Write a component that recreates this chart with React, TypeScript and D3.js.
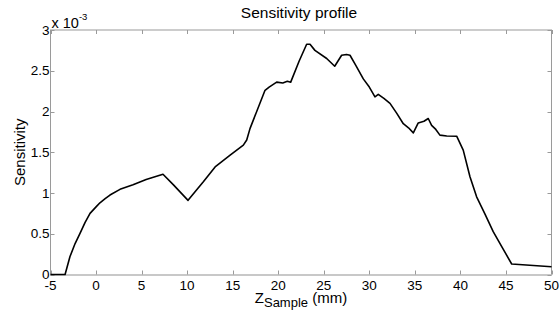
import React, { useEffect, useRef } from 'react';
import * as d3 from 'd3';

// Z position (mm) and sensitivity (x 1e-3)
const zSample = [
  -5, -3.4, -2.86, -2.3, -1.76, -1.2, -0.66, 0, 0.43, 1, 1.53, 2.63, 4.06, 5.5, 7.35, 8.5, 10.1,
  10.87, 11.78, 13.07, 14.72, 16.17, 16.54, 16.9, 18.55, 19.0, 19.83, 20.5, 21.0, 21.37, 22.3,
  23.12, 23.49, 24.03, 25.32, 26.2, 26.96, 27.5, 27.88, 28.5, 29.34, 30.0, 30.62, 30.98, 31.6,
  32.27, 33.0, 33.73, 34.3, 34.83, 35.37, 36.0, 36.47, 36.84, 37.3, 37.75, 38.5, 39.59, 40.31,
  41.05, 41.78, 42.7, 43.6, 44.6, 45.63, 50,
];
const sensitivity = [
  0, 0, 0.22, 0.38, 0.505, 0.64, 0.75, 0.83, 0.88, 0.93, 0.975, 1.045, 1.1, 1.165, 1.23, 1.1, 0.91,
  1.015, 1.137, 1.32, 1.464, 1.587, 1.65, 1.79, 2.26, 2.3, 2.36, 2.35, 2.37, 2.36, 2.62, 2.825,
  2.825, 2.75, 2.65, 2.555, 2.69, 2.7, 2.69, 2.57, 2.4, 2.3, 2.18, 2.21, 2.16, 2.1, 1.98, 1.85, 1.8,
  1.738, 1.86, 1.88, 1.914, 1.83, 1.78, 1.71, 1.7, 1.697, 1.526, 1.2, 0.953, 0.74, 0.525, 0.33,
  0.129, 0.096,
];
const xTicks = d3.range(-5, 51, 5);
const yTicks = [0, 0.5, 1, 1.5, 2, 2.5, 3];

const width = 560;
const height = 318;
const margin = { top: 30, right: 8.5, bottom: 43.5, left: 50.5 };

export default function App() {
  const svgRef = useRef<SVGSVGElement>(null);

  useEffect(() => {
    if (!svgRef.current) return;
    const svg = d3.select(svgRef.current);
    svg.selectAll('*').remove();

    const x = d3.scaleLinear().domain([-5, 50]).range([margin.left, width - margin.right]);
    const y = d3.scaleLinear().domain([0, 3]).range([height - margin.bottom, margin.top]);
    const font = 'Liberation Sans, Arial, sans-serif';

    const [x0, x1] = x.range();
    const [yb, yt] = y.range();
    const axisColor = '#9a9a9a';

    // box
    svg.append('rect')
      .attr('x', x0).attr('y', yt).attr('width', x1 - x0).attr('height', yb - yt)
      .attr('fill', 'none').attr('stroke', axisColor).attr('stroke-width', 1);
    svg.append('line')
      .attr('x1', x0).attr('x2', x1).attr('y1', yb + 0.5).attr('y2', yb + 0.5)
      .attr('stroke', '#c8c8c8').attr('stroke-width', 2);

    // ticks (inward, on all four sides)
    const tickLen = 4;
    const g = svg.append('g').attr('stroke', axisColor).attr('stroke-width', 1);
    xTicks.forEach(t => {
      const px = Math.round(x(t)) + 0.5;
      g.append('line').attr('x1', px).attr('x2', px).attr('y1', yb).attr('y2', yb - tickLen);
      g.append('line').attr('x1', px).attr('x2', px).attr('y1', yt).attr('y2', yt + tickLen);
    });
    yTicks.forEach(t => {
      const py = Math.round(y(t)) + 0.5;
      g.append('line').attr('x1', x0).attr('x2', x0 + tickLen).attr('y1', py).attr('y2', py);
      g.append('line').attr('x1', x1).attr('x2', x1 - tickLen).attr('y1', py).attr('y2', py);
    });

    // tick labels
    svg.append('g')
      .selectAll('text')
      .data(xTicks)
      .join('text')
      .attr('x', d => x(d))
      .attr('y', yb + 15)
      .attr('text-anchor', 'middle')
      .style('font', `13.5px ${font}`)
      .text(d => d);
    svg.append('g')
      .selectAll('text')
      .data(yTicks)
      .join('text')
      .attr('x', x0 - 1)
      .attr('y', d => y(d) + 4.5)
      .attr('text-anchor', 'end')
      .style('font', `13.5px ${font}`)
      .text(d => d);

    // exponent
    const ex = svg.append('text').attr('x', x0 + 1).attr('y', yt - 2).style('font', `14.5px ${font}`);
    ex.append('tspan').text('x 10');
    ex.append('tspan').attr('dy', -8).style('font-size', '9.5px').text('-3');

    // line
    const line = d3.line<number>()
      .x((_, i) => x(zSample[i]))
      .y(d => y(d));
    svg.append('path')
      .datum(sensitivity)
      .attr('d', line)
      .attr('fill', 'none')
      .attr('stroke', '#000')
      .attr('stroke-width', 1.6)
      .attr('stroke-linejoin', 'round');

    // title and labels
    svg.append('text')
      .attr('x', (x0 + x1) / 2 - 2).attr('y', 18)
      .attr('text-anchor', 'middle')
      .style('font', `15.5px ${font}`)
      .text('Sensitivity profile');

    const xl = svg.append('text')
      .attr('x', (x0 + x1) / 2).attr('y', 303)
      .attr('text-anchor', 'middle')
      .style('font', `15px ${font}`);
    xl.append('tspan').text('Z');
    xl.append('tspan').attr('dy', 4).style('font-size', '13px').text('Sample');
    xl.append('tspan').attr('dy', -4).text(' (mm)');

    svg.append('text')
      .attr('transform', `translate(25,${(yt + yb) / 2}) rotate(-90)`)
      .attr('text-anchor', 'middle')
      .style('font', `15px ${font}`)
      .text('Sensitivity');
  }, []);

  return (
    <svg
      ref={svgRef}
      width={width}
      height={height}
      style={{ position: 'absolute', left: 0, top: 0, background: '#fff' }}
    />
  );
}
